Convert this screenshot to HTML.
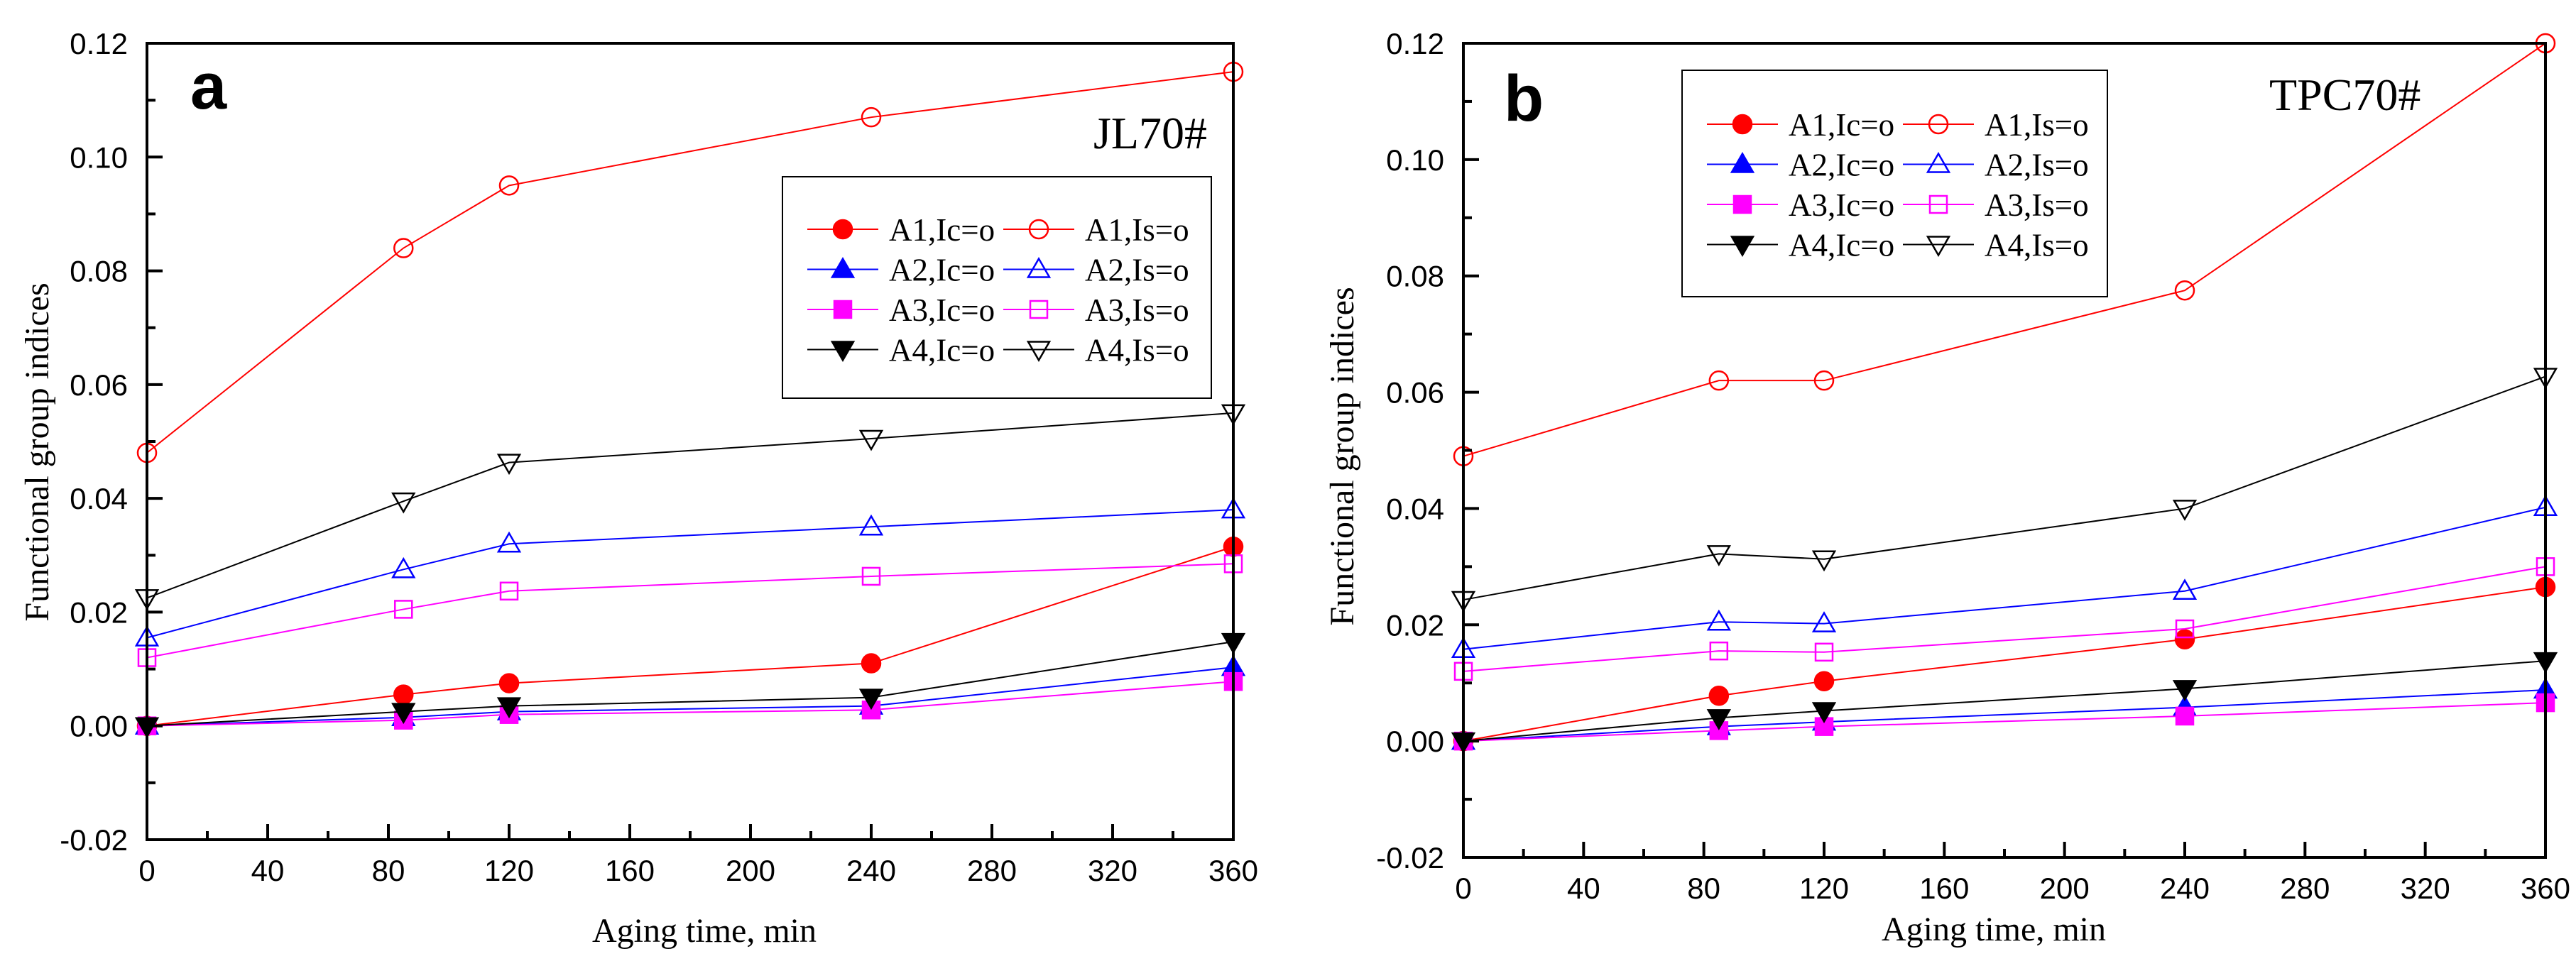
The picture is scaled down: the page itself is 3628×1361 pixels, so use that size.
<!DOCTYPE html>
<html><head><meta charset="utf-8"><style>
html,body{margin:0;padding:0;background:#fff;}
svg{display:block;}
.tk{font-family:"Liberation Sans",sans-serif;font-size:42px;fill:#000;}
.ser{font-family:"Liberation Serif",serif;fill:#000;}
</style></head><body>
<svg id="chart" width="3628" height="1361" viewBox="0 0 3628 1361" xmlns="http://www.w3.org/2000/svg"></svg>
<script>
const xTimes = [0, 85, 120, 240, 360];
const xTicks = [0, 40, 80, 120, 160, 200, 240, 280, 320, 360];
const yTicks = [-0.02, 0, 0.02, 0.04, 0.06, 0.08, 0.10, 0.12];
const yTickLabels = ["-0.02", "0.00", "0.02", "0.04", "0.06", "0.08", "0.10", "0.12"];
const seriesNames = ["A1,Ic=o", "A1,Is=o", "A2,Ic=o", "A2,Is=o", "A3,Ic=o", "A3,Is=o", "A4,Ic=o", "A4,Is=o"];
// Panel a (JL70#)
const a_A1Ic = [0, 0.0055, 0.0075, 0.011, 0.0315];
const a_A1Is = [0.048, 0.084, 0.095, 0.107, 0.115];
const a_A2Ic = [0, 0.0015, 0.0025, 0.0035, 0.0103];
const a_A2Is = [0.0155, 0.0275, 0.032, 0.035, 0.038];
const a_A3Ic = [0, 0.001, 0.002, 0.0028, 0.0078];
const a_A3Is = [0.012, 0.0205, 0.0237, 0.0263, 0.0285];
const a_A4Ic = [0, 0.0025, 0.0035, 0.005, 0.0148];
const a_A4Is = [0.0225, 0.0395, 0.0463, 0.0505, 0.055];
// Panel b (TPC70#)
const b_A1Ic = [0, 0.0078, 0.0103, 0.0175, 0.0265];
const b_A1Is = [0.049, 0.062, 0.062, 0.0775, 0.12];
const b_A2Ic = [0, 0.0025, 0.0033, 0.0058, 0.0088];
const b_A2Is = [0.0158, 0.0205, 0.0202, 0.0258, 0.0402];
const b_A3Ic = [0, 0.0018, 0.0025, 0.0043, 0.0066];
const b_A3Is = [0.012, 0.0155, 0.0153, 0.0193, 0.030];
const b_A4Ic = [0, 0.004, 0.0052, 0.009, 0.0138];
const b_A4Is = [0.0243, 0.0322, 0.0313, 0.040, 0.0627];

const NS = "http://www.w3.org/2000/svg";
const svg = document.getElementById('chart');
function mk(tag, attrs, parent) {
  const e = document.createElementNS(NS, tag);
  for (const k in attrs) e.setAttribute(k, attrs[k]);
  (parent || svg).appendChild(e);
  return e;
}
const styles = [
  {c:"#ff0000", m:"circle", f:true}, {c:"#ff0000", m:"circle", f:false},
  {c:"#0000ff", m:"up", f:true}, {c:"#0000ff", m:"up", f:false},
  {c:"#ff00ff", m:"square", f:true}, {c:"#ff00ff", m:"square", f:false},
  {c:"#000000", m:"down", f:true}, {c:"#000000", m:"down", f:false}
];
function marker(g, x, y, st) {
  const fill = st.f ? st.c : "none";
  const a = {fill: fill, stroke: st.c, "stroke-width": 2.5};
  let e;
  if (st.m === "circle") { a.cx = x; a.cy = y; a.r = 13; e = mk('circle', a, g); }
  else if (st.m === "square") { a.x = x - 12; a.y = y - 12; a.width = 24; a.height = 24; e = mk('rect', a, g); }
  else if (st.m === "up") { a.points = `${x},${y-15} ${x+15},${y+11} ${x-15},${y+11}`; e = mk('polygon', a, g); }
  else { a.points = `${x},${y+15} ${x+15},${y-11} ${x-15},${y-11}`; e = mk('polygon', a, g); }
  return e;
}
function panel(P) {
  const g = mk('g', {});
  
  
  const sx = v => P.x0 + (v - 0) / 360 * (P.x1 - P.x0);
  const sy = v => P.y1 - (v + 0.02) / 0.14 * (P.y1 - P.y0);
  // series
  P.series.forEach((vals, i) => {
    const st = styles[i];
    const sg = mk('g', {}, g);
    
    
    const pts = vals.map((v, j) => sx(xTimes[j]) + ',' + sy(v)).join(' ');
    const pl = mk('polyline', {points: pts, fill: 'none', stroke: st.c, 'stroke-width': 2}, sg);
    
    
    vals.forEach((v, j) => {
      const m = marker(sg, sx(xTimes[j]), sy(v), st);
      
      
    });
  });
  // frame
  const fr = mk('rect', {x: P.x0, y: P.y0, width: P.x1 - P.x0, height: P.y1 - P.y0, fill: 'none', stroke: '#000', 'stroke-width': 4}, g);
  
  
  // x ticks
  for (let v = 0; v <= 360; v += 20) {
    const major = v % 40 === 0;
    const t = mk('line', {x1: sx(v), x2: sx(v), y1: P.y1, y2: P.y1 - (major ? 22 : 12), stroke: '#000', 'stroke-width': 4}, g);
    
    
  }
  xTicks.forEach(v => {
    const t = mk('text', {x: sx(v), y: P.y1 + 58, 'text-anchor': 'middle', class: 'tk'}, g);
    t.textContent = v;
    
    
  });
  for (let k = 0; k <= 14; k++) {
    const v = -0.02 + k * 0.01;
    const major = k % 2 === 0;
    const t = mk('line', {x1: P.x0, x2: P.x0 + (major ? 22 : 12), y1: sy(v), y2: sy(v), stroke: '#000', 'stroke-width': 4}, g);
    
    
  }
  yTicks.forEach((v, i) => {
    const t = mk('text', {x: P.x0 - 27, y: sy(v) + 15, 'text-anchor': 'end', class: 'tk'}, g);
    t.textContent = yTickLabels[i];
    
    
  });
  // titles
  const yt = mk('text', {x: 0, y: 0, 'text-anchor': 'middle', class: 'ser', 'font-size': 48, transform: `translate(${P.ytx},${P.yty}) rotate(-90)`}, g);
  yt.textContent = 'Functional group indices';
  
  
  const xt = mk('text', {x: P.xtx, y: P.xty, 'text-anchor': 'middle', class: 'ser', 'font-size': 48}, g);
  xt.textContent = 'Aging time, min';
  
  
  const pl = mk('text', {x: P.lx, y: P.ly, 'font-family': '"Liberation Sans", sans-serif', 'font-weight': 'bold', 'font-size': 92}, g);
  pl.textContent = P.letter;
  
  
  const st = mk('text', {x: P.sx, y: P.sy, class: 'ser', 'font-size': 64}, g);
  st.textContent = P.sample;
  
  
  // legend
  const lg = mk('g', {}, g);
  
  
  mk('rect', {x: P.L.x, y: P.L.y, width: P.L.w, height: P.L.h, fill: '#fff', stroke: '#000', 'stroke-width': 2}, lg);
  seriesNames.forEach((n, i) => {
    const row = Math.floor(i / 2), col = i % 2;
    const bx = P.L.x + 35 + col * 276, by = P.L.y + P.L.r0 + row * 56.5;
    const e = mk('g', {}, lg);
    
    
    mk('line', {x1: bx, x2: bx + 100, y1: by, y2: by, stroke: styles[i].c, 'stroke-width': 2}, e);
    marker(e, bx + 50, by, styles[i]);
    const t = mk('text', {x: bx + 115, y: by + 16, class: 'ser', 'font-size': 45}, e);
    t.textContent = n;
  });
}
panel({name: 'panel-a', x0: 207, x1: 1737, y0: 61, y1: 1183,
  series: [a_A1Ic, a_A1Is, a_A2Ic, a_A2Is, a_A3Ic, a_A3Is, a_A4Ic, a_A4Is],
  ytx: 68, yty: 637, xtx: 992, xty: 1327, letter: 'a', lx: 268, ly: 153,
  sample: 'JL70#', sx: 1540, sy: 209,
  L: {x: 1102, y: 249, w: 604, h: 312, r0: 74}});
panel({name: 'panel-b', x0: 2061, x1: 3585, y0: 61, y1: 1208,
  series: [b_A1Ic, b_A1Is, b_A2Ic, b_A2Is, b_A3Ic, b_A3Is, b_A4Ic, b_A4Is],
  ytx: 1906, yty: 643, xtx: 2808, xty: 1325, letter: 'b', lx: 2118, ly: 170,
  sample: 'TPC70#', sx: 3196, sy: 155,
  L: {x: 2369, y: 99, w: 599, h: 319, r0: 76}});
</script>
</body></html>
